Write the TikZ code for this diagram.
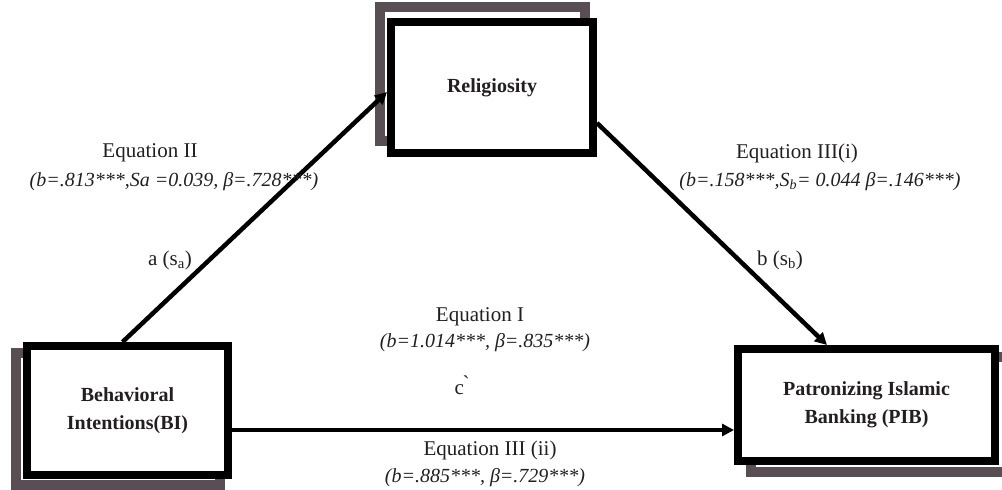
\documentclass[tikz,border=0pt]{standalone}
\usepackage{fontspec}
\setmainfont{Liberation Serif}
\usetikzlibrary{arrows.meta,backgrounds}
\definecolor{shadowgrey}{HTML}{584E54}
\definecolor{ink}{HTML}{231F20}
\tikzset{
  varbox/.style={draw=black, line width=8pt, fill=white, inner sep=0pt,
    text=ink, align=center, font=\fontsize{20}{28.5}\selectfont\bfseries},
  shadowframe/.style={draw=shadowgrey, line width=10pt},
  conn/.style={draw=black, line width=4.5pt, -{Triangle[length=12pt,width=12pt]}},
  eqlab/.style={inner sep=0pt, anchor=base, text=ink, font=\fontsize{21}{24}\selectfont},
  coef/.style={inner sep=0pt, anchor=base, text=ink, font=\fontsize{20}{24}\selectfont\itshape},
}
\begin{document}
\begin{tikzpicture}[x=1pt,y=-1pt]
\useasboundingbox (0,0) rectangle (1002,490);
\clip (0,0) rectangle (1002,490);

% boxes
\node[varbox, minimum width=202pt, minimum height=131pt] (Rel) at (492,87.5) {Religiosity};
\node[varbox, minimum width=201pt, minimum height=129pt] (BI) at (127.5,410.5) {Behavioral\\Intentions(BI)};
\node[varbox, minimum width=257pt, minimum height=112pt] (PIB) at (866.5,405) {Patronizing Islamic\\Banking (PIB)};

% shadows
\begin{pgfonlayer}{background}
\draw[shadowframe] ([shift={(-12pt,11pt)}]Rel.south west) ++(5pt,5pt) rectangle ([shift={(-12pt,11pt)}]Rel.north east) ++(-5pt,-5pt);
\draw[shadowframe] ([shift={(-12pt,-11pt)}]BI.south west) ++(5pt,5pt) rectangle ([shift={(-12pt,-11pt)}]BI.north east) ++(-5pt,-5pt);
\draw[shadowframe] ([shift={(12pt,-12pt)}]PIB.south west) ++(5pt,5pt) rectangle ([shift={(12pt,-12pt)}]PIB.north east) ++(-5pt,-5pt);
\end{pgfonlayer}

% connectors
\coordinate (cy) at (0,430);
\draw[conn] ([xshift=-5pt]BI.north) -- ([yshift=-4.5pt]Rel.west);
\draw[conn] ([yshift=-35.5pt]Rel.east) -- ([xshift=-39.5pt]PIB.north);
\draw[conn] (BI.east |- cy) -- (PIB.west |- cy);

% labels
\node[eqlab] (eq2) at (150,157) {Equation II};
\node[coef] (co2) at (174,186) {(b=.813***,Sa =0.039, β=.728***)};
\node[eqlab] (la) at (170,265) {a (s\textsubscript{a})};

\node[eqlab] (eq3i) at (797,158) {Equation III(i)};
\node[coef] (co3i) at (820,186) {(b=.158***,S\textsubscript{b}= 0.044 β=.146***)};
\node[eqlab] (lb) at (780,265) {b (s\textsubscript{b})};

\node[eqlab] (eq1) at (480,321) {Equation I};
\node[coef] (co1) at (485,347) {(b=1.014***, β=.835***)};
\node[eqlab] (lc) at (462,394) {c\`{}};

\node[eqlab] (eq3ii) at (490,455) {Equation III (ii)};
\node[coef] (co3ii) at (485,482) {(b=.885***, β=.729***)};
\end{tikzpicture}
\end{document}
